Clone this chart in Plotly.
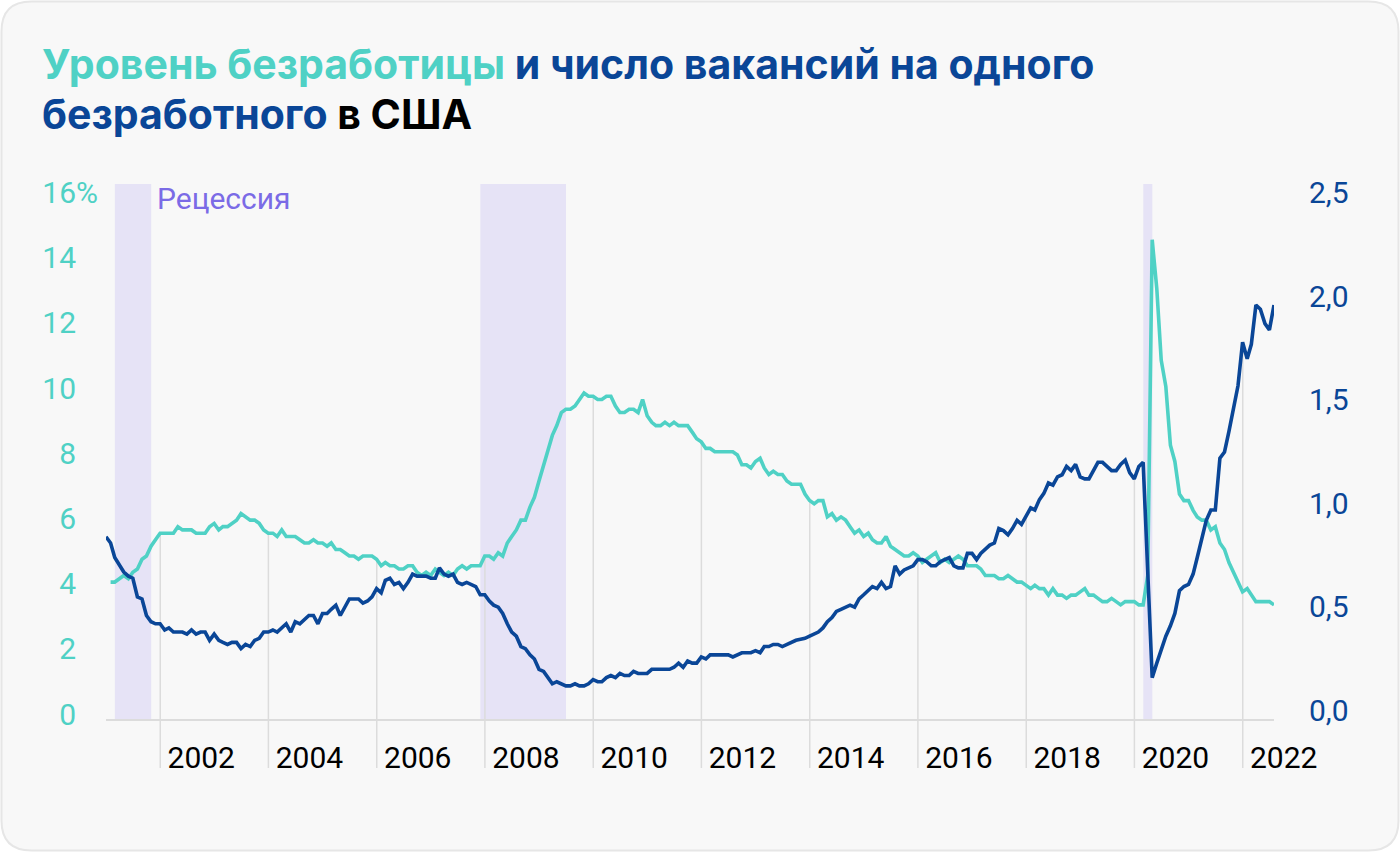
import pandas as pd
import plotly.graph_objects as go

# ---------------- data ----------------
# Vacancies per unemployed person, monthly, Dec 2000 .. Jul 2022 (month-end)
vac_ratio = [
    0.88, 0.85, 0.78, 0.74, 0.71, 0.69, 0.68, 0.59, 0.58, 0.50, 0.47, 0.46,
    0.46, 0.43, 0.44, 0.42, 0.42, 0.42, 0.41, 0.43, 0.41, 0.42, 0.42, 0.38,
    0.41, 0.38, 0.37, 0.36, 0.37, 0.37, 0.34, 0.36, 0.35, 0.38, 0.39, 0.42,
    0.42, 0.43, 0.42, 0.44, 0.46, 0.42, 0.47, 0.46, 0.48, 0.50, 0.50, 0.46,
    0.51, 0.51, 0.53, 0.55, 0.50, 0.54, 0.58, 0.58, 0.58, 0.56, 0.57, 0.59,
    0.63, 0.61, 0.67, 0.68, 0.65, 0.66, 0.63, 0.66, 0.70, 0.69, 0.69, 0.69,
    0.68, 0.68, 0.73, 0.70, 0.69, 0.70, 0.66, 0.65, 0.66, 0.65, 0.64, 0.60,
    0.60, 0.57, 0.55, 0.54, 0.51, 0.46, 0.42, 0.40, 0.35, 0.34, 0.31, 0.29,
    0.24, 0.23, 0.20, 0.17, 0.18, 0.17, 0.16, 0.16, 0.17, 0.16, 0.16, 0.17,
    0.19, 0.18, 0.18, 0.20, 0.21, 0.20, 0.22, 0.21, 0.21, 0.23, 0.22, 0.22,
    0.22, 0.24, 0.24, 0.24, 0.24, 0.24, 0.25, 0.27, 0.25, 0.28, 0.27, 0.27,
    0.30, 0.29, 0.31, 0.31, 0.31, 0.31, 0.31, 0.30, 0.31, 0.32, 0.32, 0.32,
    0.33, 0.32, 0.35, 0.35, 0.36, 0.36, 0.35, 0.36, 0.37, 0.38, 0.385, 0.39,
    0.40, 0.41, 0.42, 0.44, 0.47, 0.49, 0.52, 0.53, 0.54, 0.55, 0.54, 0.58,
    0.60, 0.62, 0.64, 0.63, 0.66, 0.63, 0.64, 0.74, 0.70, 0.72, 0.73, 0.74,
    0.77, 0.77, 0.76, 0.74, 0.74, 0.76, 0.77, 0.78, 0.74, 0.73, 0.73, 0.80,
    0.80, 0.77, 0.80, 0.82, 0.84, 0.85, 0.92, 0.91, 0.89, 0.92, 0.96, 0.94,
    0.98, 1.02, 1.01, 1.06, 1.09, 1.14, 1.13, 1.17, 1.18, 1.22, 1.20, 1.23,
    1.17, 1.16, 1.16, 1.20, 1.24, 1.24, 1.22, 1.20, 1.20, 1.23, 1.25, 1.19,
    1.16, 1.22, 1.24, 0.75, 0.20, 0.27, 0.34, 0.40, 0.45, 0.51, 0.62, 0.64,
    0.65, 0.70, 0.78, 0.88, 0.96, 1.01, 1.01, 1.26, 1.29, 1.39, 1.51, 1.61,
    1.82, 1.74, 1.81, 2.00, 1.98, 1.91, 1.88, 2.00,
]

# Unemployment rate, %, Jan 2001 .. Jul 2022
unemployment = [
    4.2, 4.2, 4.3, 4.4, 4.3, 4.5, 4.6, 4.9, 5.0, 5.3, 5.5, 5.7,
    5.7, 5.7, 5.7, 5.9, 5.8, 5.8, 5.8, 5.7, 5.7, 5.7, 5.9, 6.0,
    5.8, 5.9, 5.9, 6.0, 6.1, 6.3, 6.2, 6.1, 6.1, 6.0, 5.8, 5.7,
    5.7, 5.6, 5.8, 5.6, 5.6, 5.6, 5.5, 5.4, 5.4, 5.5, 5.4, 5.4,
    5.3, 5.4, 5.2, 5.2, 5.1, 5.0, 5.0, 4.9, 5.0, 5.0, 5.0, 4.9,
    4.7, 4.8, 4.7, 4.7, 4.6, 4.6, 4.7, 4.7, 4.5, 4.4, 4.5, 4.4,
    4.6, 4.5, 4.4, 4.5, 4.4, 4.6, 4.7, 4.6, 4.7, 4.7, 4.7, 5.0,
    5.0, 4.9, 5.1, 5.0, 5.4, 5.6, 5.8, 6.1, 6.1, 6.5, 6.8, 7.3,
    7.8, 8.3, 8.7, 9.0, 9.4, 9.5, 9.5, 9.6, 9.8, 10.0, 9.9, 9.9,
    9.8, 9.8, 9.9, 9.9, 9.6, 9.4, 9.4, 9.5, 9.5, 9.4, 9.8, 9.3,
    9.1, 9.0, 9.0, 9.1, 9.0, 9.1, 9.0, 9.0, 9.0, 8.8, 8.6, 8.5,
    8.3, 8.3, 8.2, 8.2, 8.2, 8.2, 8.2, 8.1, 7.8, 7.8, 7.7, 7.9,
    8.0, 7.7, 7.5, 7.6, 7.5, 7.5, 7.3, 7.2, 7.2, 7.2, 6.9, 6.7,
    6.6, 6.7, 6.7, 6.2, 6.3, 6.1, 6.2, 6.1, 5.9, 5.7, 5.8, 5.6,
    5.7, 5.5, 5.4, 5.4, 5.6, 5.3, 5.2, 5.1, 5.0, 5.0, 5.1, 5.0,
    4.8, 4.9, 5.0, 5.1, 4.8, 4.9, 4.8, 4.9, 5.0, 4.9, 4.7, 4.7,
    4.7, 4.6, 4.4, 4.4, 4.4, 4.3, 4.3, 4.4, 4.3, 4.2, 4.2, 4.1,
    4.0, 4.1, 4.0, 4.0, 3.8, 4.0, 3.8, 3.8, 3.7, 3.8, 3.8, 3.9,
    4.0, 3.8, 3.8, 3.7, 3.6, 3.6, 3.7, 3.6, 3.5, 3.6, 3.6, 3.6,
    3.5, 3.5, 4.4, 14.7, 13.2, 11.0, 10.2, 8.4, 7.9, 6.9, 6.7, 6.7,
    6.4, 6.2, 6.1, 6.1, 5.8, 5.9, 5.4, 5.2, 4.8, 4.5, 4.2, 3.9,
    4.0, 3.8, 3.6, 3.6, 3.6, 3.6, 3.5,
]

recessions = [("2001-03-01", "2001-11-01"), ("2007-12-01", "2009-07-01"), ("2020-03-01", "2020-05-01")]
grid_years = list(range(2002, 2023, 2))
left_ticks = [0, 2, 4, 6, 8, 10, 12, 14, 16]
right_ticks = [0, 0.5, 1.0, 1.5, 2.0, 2.5]

dates_vac = pd.date_range("2000-12-31", periods=len(vac_ratio), freq="ME")
dates_unemp = pd.date_range("2001-01-31", periods=len(unemployment), freq="ME")

# ---------------- styling ----------------
TEAL = "#4FD1C5"
NAVY = "#0A4697"
BAND = "#E6E3F6"
PURPLE = "#7B6BE6"
GRID = "#DCDCDC"
FONT = "Roboto"
TITLE_FONT = "Inter"

W_FIG, H_FIG = 1400, 852
PL, PR, PT, PB = 106, 1274, 184, 719
PW, PH = PR - PL, PB - PT
YL_MAX = PH / 32.6      # left axis top value
YR_MAX = PH / 207.0     # right axis top value


def px_x(x):
    return (x - PL) / PW


def px_y(y):
    return (PB - y) / PH


fig = go.Figure()
fig.add_trace(go.Scatter(x=dates_unemp, y=unemployment, mode="lines",
                         line=dict(color=TEAL, width=3.6), yaxis="y", hoverinfo="skip"))
fig.add_trace(go.Scatter(x=dates_vac, y=vac_ratio, mode="lines",
                         line=dict(color=NAVY, width=3.6), yaxis="y2", hoverinfo="skip"))

shapes = []
# card background with rounded corners
r = 30
x0c, x1c, y0c, y1c = 1.5, 1398.5, 1.5, 850.5
pts = [
    ("M", x0c + r, y0c), ("L", x1c - r, y0c), ("Q", x1c, y0c, x1c, y0c + r),
    ("L", x1c, y1c - r), ("Q", x1c, y1c, x1c - r, y1c), ("L", x0c + r, y1c),
    ("Q", x0c, y1c, x0c, y1c - r), ("L", x0c, y0c + r), ("Q", x0c, y0c, x0c + r, y0c),
]
path = ""
for p in pts:
    cmd = p[0]
    coords = p[1:]
    conv = []
    for i in range(0, len(coords), 2):
        conv.append(f"{px_x(coords[i]):.5f},{px_y(coords[i + 1]):.5f}")
    path += cmd + " " + " ".join(conv) + " "
path += "Z"
shapes.append(dict(type="path", path=path, xref="paper", yref="paper",
                   fillcolor="#F8F8F8", line=dict(color="#E6E6E6", width=2), layer="below"))

for a, b in recessions:
    shapes.append(dict(type="rect", xref="x", yref="paper", x0=a, x1=b, y0=0, y1=1,
                       fillcolor=BAND, line=dict(width=0), layer="below"))

for yr in grid_years:
    m = 12 * (yr - 2001)
    top = max(unemployment[m - 1] / YL_MAX, vac_ratio[m] / YR_MAX)
    shapes.append(dict(type="line", xref="x", yref="paper", x0=f"{yr}-01-01", x1=f"{yr}-01-01",
                       y0=px_y(768), y1=top, line=dict(color=GRID, width=1.5), layer="below"))

title_font = dict(family=TITLE_FONT, size=41, weight=700, color=NAVY)
annotations = [
    dict(xref="paper", yref="paper", x=px_x(40), y=px_y(64), xanchor="left", yanchor="middle",
         align="left", showarrow=False, font=title_font,
         text=(f'<span style="color:{TEAL}">Уровень безработицы</span> '
               f'<span style="color:{NAVY}">и число вакансий на одного</span>')),
    dict(xref="paper", yref="paper", x=px_x(40), y=px_y(114), xanchor="left", yanchor="middle",
         align="left", showarrow=False, font=title_font,
         text=(f'<span style="color:{NAVY}">безработного</span> '
               f'<span style="color:#000000">в США</span>')),
    dict(xref="x", yref="paper", x=recessions[0][1], y=px_y(198), xanchor="left", yanchor="middle",
         xshift=4, showarrow=False, text="Рецессия",
         font=dict(family=FONT, size=30, color=PURPLE)),
]

left_text = [f"{v}%" if v == 16 else f'{v}<span style="color:rgba(0,0,0,0)">%</span>' for v in left_ticks]

fig.update_layout(
    width=W_FIG, height=H_FIG, autosize=False,
    margin=dict(l=PL, r=W_FIG - PR, t=PT, b=H_FIG - PB, pad=0),
    paper_bgcolor="#FFFFFF", plot_bgcolor="rgba(0,0,0,0)",
    showlegend=False, separators=", ",
    font=dict(family=FONT, size=30),
    shapes=shapes, annotations=annotations,
    xaxis=dict(type="date", range=[dates_vac[0], dates_vac[-1]],
               tickvals=[f"{y}-01-01" for y in grid_years], ticktext=[str(y) for y in grid_years],
               ticklabelshift=41, ticklabelstandoff=11, ticks="",
               showgrid=False, zeroline=False, showline=True, linecolor=GRID, linewidth=2,
               tickfont=dict(family=FONT, size=30, color="#000000")),
    yaxis=dict(range=[0, YL_MAX], tickvals=left_ticks, ticktext=left_text, ticks="",
               showgrid=False, zeroline=False, showline=False, ticklabelstandoff=7,
               ticklabelshift=-5, tickfont=dict(family=FONT, size=30, color=TEAL)),
    yaxis2=dict(range=[0, YR_MAX], overlaying="y", side="right", tickvals=right_ticks,
                tickformat=".1f", ticks="", showgrid=False, zeroline=False, showline=False,
                ticklabelstandoff=34, ticklabelshift=-9,
                tickfont=dict(family=FONT, size=30, color=NAVY)),
)

fig.write_html("out.html")
